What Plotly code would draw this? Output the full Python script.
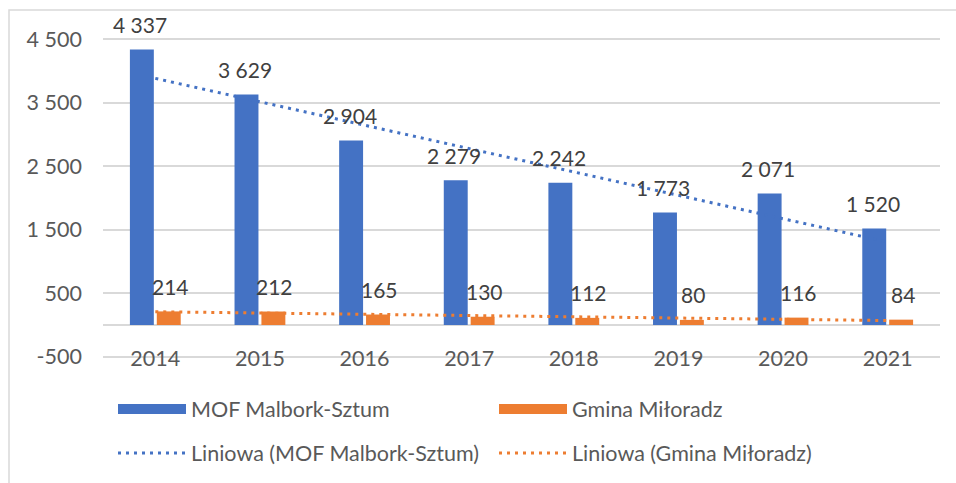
import numpy as np
import plotly.graph_objects as go

years = ["2014", "2015", "2016", "2017", "2018", "2019", "2020", "2021"]
mof = [4337, 3629, 2904, 2279, 2242, 1773, 2071, 1520]
gmina = [214, 212, 165, 130, 112, 80, 116, 84]
ytick_vals = [-500, 500, 1500, 2500, 3500, 4500]
ytick_text = ["-500", "500", "1 500", "2 500", "3 500", "4 500"]

BLUE = "#4472C4"
ORANGE = "#ED7D31"
FONT = "Lato"
FS = 21
FS_AX = 21.5
DOTS = "3px,5px"


def trend(vals):
    idx = np.arange(len(vals))
    k, b = np.polyfit(idx, vals, 1)
    return list(k * idx + b)


def fmt(v):
    return f"{v:,}".replace(",", " ")


fig = go.Figure()
fig.add_trace(go.Bar(x=years, y=mof, marker=dict(color=BLUE, line=dict(width=0)),
                     name="MOF Malbork-Sztum", showlegend=False))
fig.add_trace(go.Bar(x=years, y=gmina, marker=dict(color=ORANGE, line=dict(width=0)),
                     name="Gmina Miłoradz", showlegend=False))
fig.add_trace(go.Scatter(x=years, y=trend(mof), mode="lines", line=dict(color=BLUE, width=3, dash=DOTS),
                         name="Liniowa (MOF Malbork-Sztum)", legend="legend2"))
fig.add_trace(go.Scatter(x=years, y=trend(gmina), mode="lines", line=dict(color=ORANGE, width=3, dash=DOTS),
                         name="Liniowa (Gmina Miłoradz)", legend="legend2"))
# legend entries for bars (thick line swatches)
fig.add_trace(go.Scatter(x=[years[0]], y=[None], mode="lines", line=dict(color=BLUE, width=14),
                         name="MOF Malbork-Sztum", legend="legend"))
fig.add_trace(go.Scatter(x=[years[0]], y=[None], mode="lines", line=dict(color=ORANGE, width=14),
                         name="Gmina Miłoradz", legend="legend"))

for i in range(len(years)):
    fig.add_annotation(x=i, y=mof[i], text=fmt(mof[i]), showarrow=False, xshift=-15, yshift=25,
                       font=dict(family=FONT, size=FS, color="#404040"))
    fig.add_annotation(x=i, y=gmina[i], text=fmt(gmina[i]), showarrow=False, xshift=15, yshift=25,
                       font=dict(family=FONT, size=FS, color="#404040"))

legend_common = dict(orientation="h", xref="container", yref="container", xanchor="left", yanchor="middle",
                     itemwidth=68, entrywidth=298, font=dict(family=FONT, size=FS_AX, color="#595959"),
                     bgcolor="rgba(0,0,0,0)", traceorder="normal")

PLOT_TOP, PLOT_BOT = 38.0, 358.0

fig.update_layout(
    width=956, height=483,
    margin=dict(l=103, r=16, t=PLOT_TOP, b=483 - PLOT_BOT),
    paper_bgcolor="white", plot_bgcolor="white",
    barmode="group", bargap=0.486, bargroupgap=0.11,
    font=dict(family=FONT, size=FS, color="#595959"),
    legend=dict(x=113 / 956, y=(483 - 409) / 483, **legend_common),
    legend2=dict(x=113 / 956, y=(483 - 453) / 483, **legend_common),
    xaxis=dict(type="category", showgrid=False, showline=False, ticks="", ticklabelstandoff=-15,
               range=[-0.5, len(years) - 0.5], automargin=False,
               tickfont=dict(family=FONT, size=FS_AX, color="#595959")),
    yaxis=dict(range=[-520, 4520], tickvals=ytick_vals, ticktext=ytick_text, showgrid=True,
               gridcolor="#D9D9D9", gridwidth=1.5, zeroline=True, zerolinecolor="#D9D9D9", zerolinewidth=1.5,
               showline=False, ticks="", ticklabelstandoff=20, automargin=False,
               tickfont=dict(family=FONT, size=FS_AX, color="#595959")),
    shapes=[dict(type="rect", xref="paper", yref="paper",
                 x0=(9 - 103) / 837, x1=(965 - 103) / 837,
                 y0=(PLOT_BOT - 495) / (PLOT_BOT - PLOT_TOP), y1=(PLOT_BOT - 10) / (PLOT_BOT - PLOT_TOP),
                 line=dict(color="#D9D9D9", width=1.5), fillcolor="rgba(0,0,0,0)", layer="below")],
)

fig.write_html("out.html", config={"displayModeBar": False},
               post_script="document.body.style.margin='0';")
